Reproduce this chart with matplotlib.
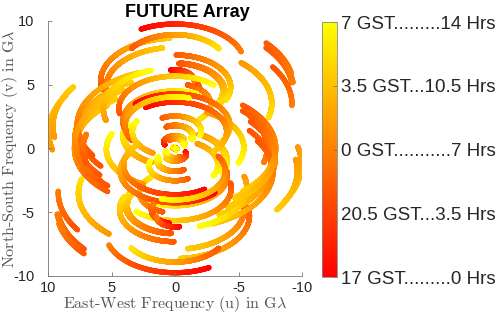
import numpy as np
import matplotlib
matplotlib.use('Agg')
import matplotlib.pyplot as plt

# stations of the array: latitude, longitude (deg)
names = ['ALMA', 'APEX', 'SMT', 'KP', 'LMT', 'SMA', 'JCMT', 'PV', 'NOEMA', 'SPT', 'GLT', 'GAM', 'OVRO']
lat = [-23.03, -23.01, 32.70, 31.95, 18.99, 19.82, 19.82, 37.07, 44.63, -90.0, 76.54, -23.34, 37.23]
lon = [-67.75, -67.76, -109.89, -111.6, -97.31, -155.48, -155.47, -3.39, 5.91, 0.0, -68.69, 16.23, -118.28]

# source and observation
src_dec = 35.0
src_ra = 21.0
earth_r = 5.9      # earth radius in G lambda
gst_start = 17.0
duration = 14.0    # hours
elev_min = 10.0

cbar_ticks = [0, 3.5, 7, 10.5, 14]
cbar_labels = ['17 GST.........0 Hrs', '20.5 GST...3.5 Hrs', '0 GST...........7 Hrs',
               '3.5 GST...10.5 Hrs', '7 GST.........14 Hrs']


def uv_tracks():
    """ u, v and time of every baseline while both stations see the source """
    la = np.radians(lat)
    lo = np.radians(lon)
    xyz = earth_r * np.array([np.cos(la) * np.cos(lo), np.cos(la) * np.sin(lo), np.sin(la)]).T
    t = np.arange(0, duration, 0.02)
    gst = (gst_start + t) % 24
    d = np.radians(src_dec)
    h = np.radians((gst - src_ra) * 15)
    us, vs, ts = [], [], []
    for i in range(len(names)):
        for j in range(len(names)):
            if i == j:
                continue
            b = xyz[i] - xyz[j]
            ok = np.ones_like(t, dtype=bool)
            for k in (i, j):
                sin_el = np.sin(la[k]) * np.sin(d) + np.cos(la[k]) * np.cos(d) * np.cos(h + lo[k])
                ok &= np.degrees(np.arcsin(sin_el)) > elev_min
            u = b[0] * np.sin(h) + b[1] * np.cos(h)
            v = -b[0] * np.sin(d) * np.cos(h) + b[1] * np.sin(d) * np.sin(h) + b[2] * np.cos(d)
            us.append(u[ok])
            vs.append(v[ok])
            ts.append(t[ok])
    return np.concatenate(us), np.concatenate(vs), np.concatenate(ts)


plt.rcParams['mathtext.fontset'] = 'cm'
fig = plt.figure(figsize=(5.01, 3.16), dpi=100)
ax = fig.add_axes([0.096, 0.127, 0.507, 0.807])

u_all, v_all, t_all = uv_tracks()
sc = ax.scatter(u_all, v_all, c=t_all, cmap='autumn', vmin=0, vmax=14, s=14, linewidths=0)

ax.set_xlim(10, -10)
ax.set_ylim(-10, 10)
ax.set_xticks([10, 5, 0, -5, -10])
ax.set_yticks([-10, -5, 0, 5, 10])
ax.set_xticklabels(['10', '5', '0', '-5', '-10'])
ax.set_yticklabels(['-10', '-5', '0', '5', '10'])
for s in ['top', 'right']:
    ax.spines[s].set_visible(False)
for s in ['left', 'bottom']:
    ax.spines[s].set_color('#777777')
    ax.spines[s].set_linewidth(0.6)
ax.tick_params(direction='in', length=3, width=0.6, color='#777777', labelsize=10.5,
               labelcolor='#262626')
ax.tick_params(axis='y', pad=10)
ax.tick_params(axis='x', pad=4)
for lab in ax.get_xticklabels() + ax.get_yticklabels():
    lab.set_family('Liberation Sans')
ax.set_xlabel(r'East-West Frequency (u) in G$\lambda$', family='cmr10',
              fontsize=11.5, color='#555555', labelpad=-1)
ax.set_ylabel(r'North-South Frequency (v) in G$\lambda$', family='cmr10',
              fontsize=11.5, color='#555555')
ax.yaxis.set_label_coords(-0.112, 0.5)
ax.set_title('FUTURE Array', family='Liberation Sans', fontweight='bold', fontsize=13,
             pad=3, x=0.55)

cax = fig.add_axes([0.643, 0.123, 0.030, 0.807])
cb = fig.colorbar(sc, cax=cax, ticks=cbar_ticks)
cb.set_ticklabels(cbar_labels)
cb.outline.set_edgecolor('#888888')
cb.outline.set_linewidth(0.6)
cax.tick_params(direction='in', length=3, width=0.6, color='#777777', labelsize=13.5,
                labelcolor='#262626', pad=3)
for lab in cax.get_yticklabels():
    lab.set_family('Liberation Sans')

fig.savefig('out.png', dpi=100)
